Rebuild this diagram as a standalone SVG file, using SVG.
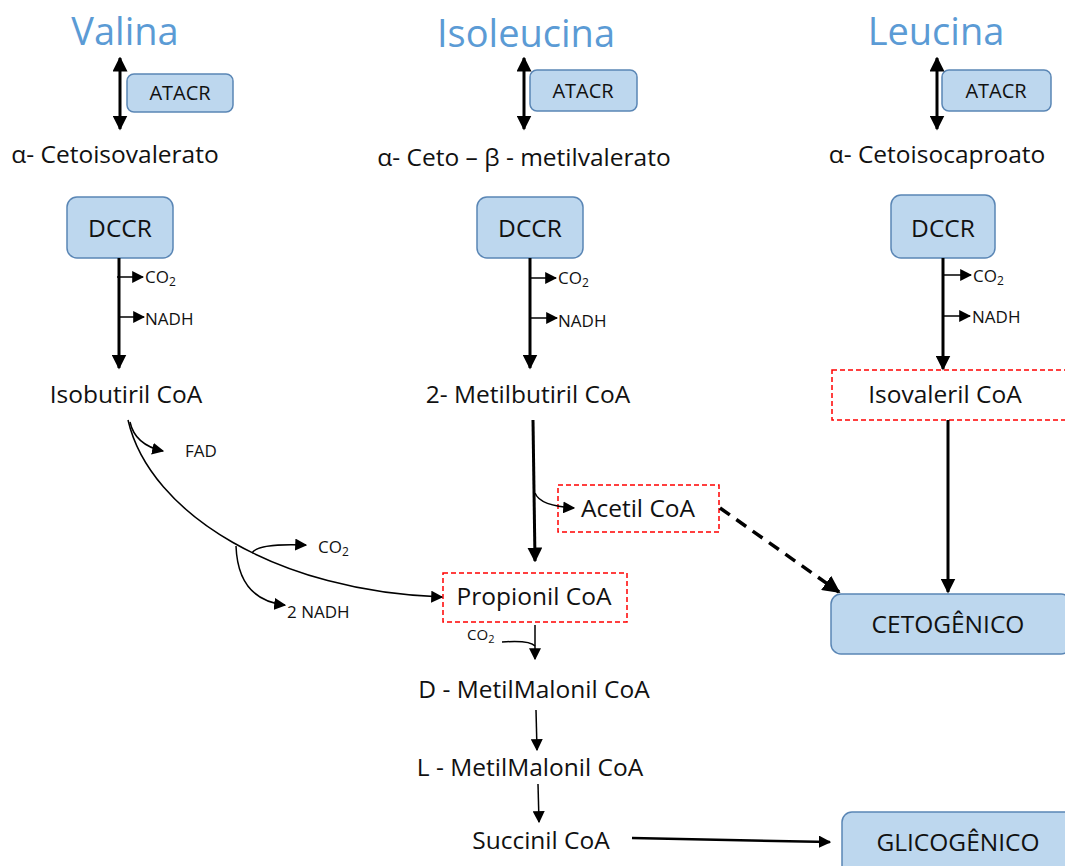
<svg xmlns="http://www.w3.org/2000/svg" width="1065" height="866" viewBox="0 0 1065 866">
<defs>
<marker id="ah" viewBox="0 0 10 10" refX="9" refY="5" markerWidth="5" markerHeight="5" orient="auto-start-reverse" markerUnits="strokeWidth"><path d="M0,0 L10,5 L0,10 z" fill="#000"/></marker>
<marker id="ahs" viewBox="0 0 10 10" refX="9" refY="5" markerWidth="8" markerHeight="8" orient="auto-start-reverse" markerUnits="strokeWidth"><path d="M0,0 L10,5 L0,10 z" fill="#000"/></marker>
</defs>
<style>
text{font-family:"Open Sans","DejaVu Sans",sans-serif;fill:#111}
.title{font-size:38px;fill:#5b9bd5;text-anchor:middle}
.lbl{font-size:24.5px;text-anchor:middle}
.at{font-size:20px;text-anchor:middle}
.sm{font-size:17px}
.box{fill:#bdd7ee;stroke:#5a86b5;stroke-width:1.5}
.dbox{fill:none;stroke:#ff0000;stroke-width:1.5;stroke-dasharray:5,3}
.thick{stroke:#000;stroke-width:3;fill:none}
.thin{stroke:#000;stroke-width:1.5;fill:none}
</style>
<rect width="1065" height="866" fill="#fff"/>
<g id="titles">
<text class="title" x="125" y="45">Valina</text>
<text class="title" x="526" y="47">Isoleucina</text>
<text class="title" x="936" y="45">Leucina</text>
</g>
<g id="atacr-valina"><rect class="box" x="127" y="74" width="106" height="38" rx="7"/><text class="at" x="180" y="100">ATACR</text></g>
<g id="atacr-isoleucina"><rect class="box" x="530" y="70" width="107" height="41" rx="7"/><text class="at" x="583" y="98">ATACR</text></g>
<g id="atacr-leucina"><rect class="box" x="942" y="70" width="109" height="41" rx="7"/><text class="at" x="996" y="98">ATACR</text></g>
<g id="ceto-valina"><text class="lbl" x="115" y="163">α- Cetoisovalerato</text></g>
<g id="ceto-isoleucina"><text class="lbl" x="524" y="166">α- Ceto – β - metilvalerato</text></g>
<g id="ceto-leucina"><text class="lbl" x="937" y="163">α- Cetoisocaproato</text></g>
<g id="dccr-valina"><rect class="box" x="67" y="197" width="106" height="61" rx="10"/><text class="lbl" x="120" y="237">DCCR</text></g>
<g id="dccr-isoleucina"><rect class="box" x="477" y="197" width="106" height="61" rx="10"/><text class="lbl" x="530" y="237">DCCR</text></g>
<g id="dccr-leucina"><rect class="box" x="891" y="195" width="104" height="63" rx="10"/><text class="lbl" x="943" y="237">DCCR</text></g>
<g id="isobutiril"><text class="lbl" x="126" y="403">Isobutiril CoA</text></g>
<g id="metilbutiril"><text class="lbl" x="528" y="403">2- Metilbutiril CoA</text></g>
<g id="isovaleril"><rect class="dbox" x="832" y="370" width="240" height="50"/><text class="lbl" x="945" y="403">Isovaleril CoA</text></g>
<g id="acetil"><rect class="dbox" x="558" y="485" width="161" height="47"/><text class="lbl" x="638" y="517">Acetil CoA</text></g>
<g id="propionil"><rect class="dbox" x="443" y="573" width="184" height="49"/><text class="lbl" x="534" y="605">Propionil CoA</text></g>
<g id="cetogenico"><rect class="box" x="831" y="594" width="240" height="60" rx="10"/><text class="lbl" x="948" y="633">CETOGÊNICO</text></g>
<g id="dmetil"><text class="lbl" x="534" y="698">D - MetilMalonil CoA</text></g>
<g id="lmetil"><text class="lbl" x="530" y="776">L - MetilMalonil CoA</text></g>
<g id="succinil"><text class="lbl" x="541" y="849">Succinil CoA</text></g>
<g id="glicogenico"><rect class="box" x="842" y="812" width="240" height="70" rx="10"/><text class="lbl" x="958" y="851">GLICOGÊNICO</text></g>
<g id="side-labels">
<text class="sm" x="145" y="283">CO<tspan font-size="12" dy="3">2</tspan></text>
<text class="sm" x="145" y="325">NADH</text>
<text class="sm" x="558" y="284">CO<tspan font-size="12" dy="3">2</tspan></text>
<text class="sm" x="558" y="327">NADH</text>
<text class="sm" x="973" y="282">CO<tspan font-size="12" dy="3">2</tspan></text>
<text class="sm" x="972" y="323">NADH</text>
<text class="sm" x="185" y="457">FAD</text>
<text class="sm" x="318" y="553">CO<tspan font-size="12" dy="3">2</tspan></text>
<text class="sm" x="287" y="618">2 NADH</text>
<text style="font-size:15px" x="467" y="640">CO<tspan font-size="11" dy="3">2</tspan></text>
</g>
<g id="connectors">
<line class="thick" x1="120" y1="58" x2="120" y2="129" marker-start="url(#ah)" marker-end="url(#ah)"/>
<line class="thick" x1="524" y1="58" x2="524" y2="129" marker-start="url(#ah)" marker-end="url(#ah)"/>
<line class="thick" x1="937" y1="58" x2="937" y2="129" marker-start="url(#ah)" marker-end="url(#ah)"/>
<line class="thick" x1="119" y1="258" x2="119" y2="368" marker-end="url(#ah)"/>
<line class="thin" x1="117" y1="277" x2="143" y2="277" marker-end="url(#ahs)"/>
<line class="thin" x1="119" y1="317" x2="144" y2="317" marker-end="url(#ahs)"/>
<line class="thick" x1="530" y1="258" x2="530" y2="368" marker-end="url(#ah)"/>
<line class="thin" x1="530" y1="278" x2="556" y2="278" marker-end="url(#ahs)"/>
<line class="thin" x1="530" y1="318" x2="557" y2="318" marker-end="url(#ahs)"/>
<line class="thick" x1="943" y1="258" x2="943" y2="369" marker-end="url(#ah)"/>
<line class="thin" x1="944" y1="275" x2="971" y2="275" marker-end="url(#ahs)"/>
<line class="thin" x1="944" y1="316" x2="970" y2="316" marker-end="url(#ahs)"/>
<line class="thick" x1="948" y1="420" x2="948" y2="592" marker-end="url(#ah)"/>
<line class="thick" x1="533" y1="420" x2="535" y2="561" marker-end="url(#ah)"/>
<path class="thin" d="M535,493 Q540,506 574,508" marker-end="url(#ahs)"/>
<line x1="720" y1="508" x2="839" y2="592" stroke="#000" stroke-width="3.5" stroke-dasharray="12,8" marker-end="url(#ah)"/>
<path class="thin" d="M128,420 C150,515 280,592 442,597" marker-end="url(#ahs)"/>
<path class="thin" d="M130,422 Q135,445 163,451" marker-end="url(#ahs)"/>
<path class="thin" d="M252,553 Q258,543 306,545" marker-end="url(#ahs)"/>
<path class="thin" d="M236,546 Q238,600 285,605" marker-end="url(#ahs)"/>
<line class="thin" x1="535" y1="625" x2="535" y2="659" marker-end="url(#ahs)"/>
<path class="thin" d="M502,642 Q530,640 535,646"/>
<line class="thin" x1="536" y1="710" x2="537" y2="750" marker-end="url(#ahs)"/>
<line class="thin" x1="538" y1="784" x2="539" y2="822" marker-end="url(#ahs)"/>
<line x1="632" y1="838" x2="830" y2="842" stroke="#000" stroke-width="2.5" marker-end="url(#ah)"/>
</g>
</svg>
